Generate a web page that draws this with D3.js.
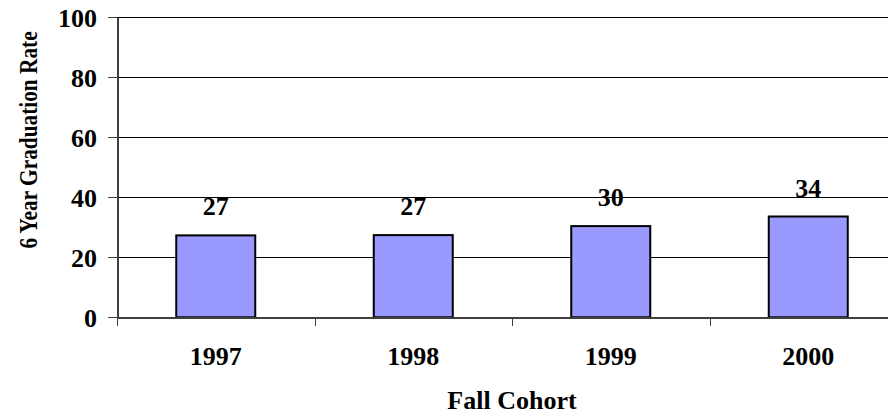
<!DOCTYPE html>
<html>
<head>
<meta charset="utf-8">
<script src="https://d3js.org/d3.v7.min.js"></script>
<style>
    body { margin: 0; background: #fff; }
    svg { display: block; }
    .grid line { stroke: #000; stroke-width: 1px; shape-rendering: crispEdges; }
    .grid path { stroke-width: 0; }
    .axis path, .axis line { stroke: #404040; shape-rendering: crispEdges; }
</style>
</head>
<body>
<svg width="888" height="414"></svg>
<script>
    // data
    const cohorts = ["1997", "1998", "1999", "2000"];
    const rates = [27.3, 27.4, 30.4, 33.6];
    const yTicks = [0, 20, 40, 60, 80, 100];

    const width = 888, height = 414;
    const serif = "'Liberation Serif', 'Times New Roman', Times, serif";
    // plot area (runs past the right edge, as in the reference)
    const plot = {left: 117, right: 907, top: 17.3, bottom: 317.3};

    const svg = d3.select("svg")
        .attr("width", width)
        .attr("height", height);

    const x = d3.scaleBand()
        .domain(cohorts)
        .range([plot.left, plot.right])
        .paddingInner(0.6)
        .paddingOuter(0.3);

    const y = d3.scaleLinear()
        .domain([0, 100])
        .range([plot.bottom, plot.top]);

    // horizontal grid lines
    svg.append("g")
        .attr("class", "grid")
        .attr("transform", `translate(${plot.left},0)`)
        .call(d3.axisLeft(y).tickValues(yTicks.slice(1))
            .tickSize(-(plot.right - plot.left))
            .tickFormat(""));

    // bars
    svg.selectAll(".bar")
        .data(cohorts)
        .enter().append("rect")
        .attr("class", "bar")
        .attr("x", d => x(d))
        .attr("width", x.bandwidth())
        .attr("y", (d, i) => y(rates[i]))
        .attr("height", (d, i) => y(0) - y(rates[i]))
        .style("fill", "#9999ff")
        .style("stroke", "#000")
        .style("stroke-width", 2);

    // value labels
    svg.selectAll(".label")
        .data(cohorts)
        .enter().append("text")
        .attr("class", "label")
        .attr("x", d => x(d) + x.bandwidth() / 2)
        .attr("y", (d, i) => y(rates[i]) - 20)
        .attr("text-anchor", "middle")
        .attr("font-family", serif)
        .attr("font-weight", "bold")
        .attr("font-size", 26)
        .text((d, i) => Math.round(rates[i]));

    // y axis
    const yAxis = svg.append("g")
        .attr("class", "axis y")
        .attr("transform", `translate(${plot.left},0)`)
        .call(d3.axisLeft(y).tickValues(yTicks).tickSize(9).tickSizeOuter(0).tickPadding(11));
    yAxis.attr("font-family", serif).attr("font-size", 26).attr("font-weight", "bold");
    yAxis.select(".domain").style("stroke-width", 2);
    yAxis.selectAll("text")
        .attr("fill", "#000")
        .attr("dy", "0.34em");

    // x axis: ticks sit on category borders
    const xEdge = d3.scaleLinear().domain([0, cohorts.length]).range([plot.left, plot.right]);
    const xAxis = svg.append("g")
        .attr("class", "axis x")
        .attr("transform", `translate(0,${plot.bottom})`)
        .call(d3.axisBottom(xEdge).tickValues(d3.range(cohorts.length)).tickSize(9).tickSizeOuter(0).tickFormat(""));
    xAxis.select(".domain").style("stroke-width", 2);

    svg.append("g")
        .selectAll("text")
        .data(cohorts)
        .enter().append("text")
        .attr("x", d => x(d) + x.bandwidth() / 2)
        .attr("y", 365)
        .attr("text-anchor", "middle")
        .attr("font-family", serif)
        .attr("font-weight", "bold")
        .attr("font-size", 26)
        .text(d => d);

    // axis titles
    svg.append("text")
        .attr("x", (plot.left + plot.right) / 2)
        .attr("y", 409)
        .attr("text-anchor", "middle")
        .attr("font-family", serif)
        .attr("font-weight", "bold")
        .attr("font-size", 26)
        .text("Fall Cohort");

    // the reference squeezes this title along its length
    svg.append("text")
        .attr("transform", "translate(37,140) rotate(-90) scale(0.82,1)")
        .attr("text-anchor", "middle")
        .attr("font-family", serif)
        .attr("font-weight", "bold")
        .attr("font-size", 26)
        .text("6 Year Graduation Rate");
</script>
</body>
</html>
